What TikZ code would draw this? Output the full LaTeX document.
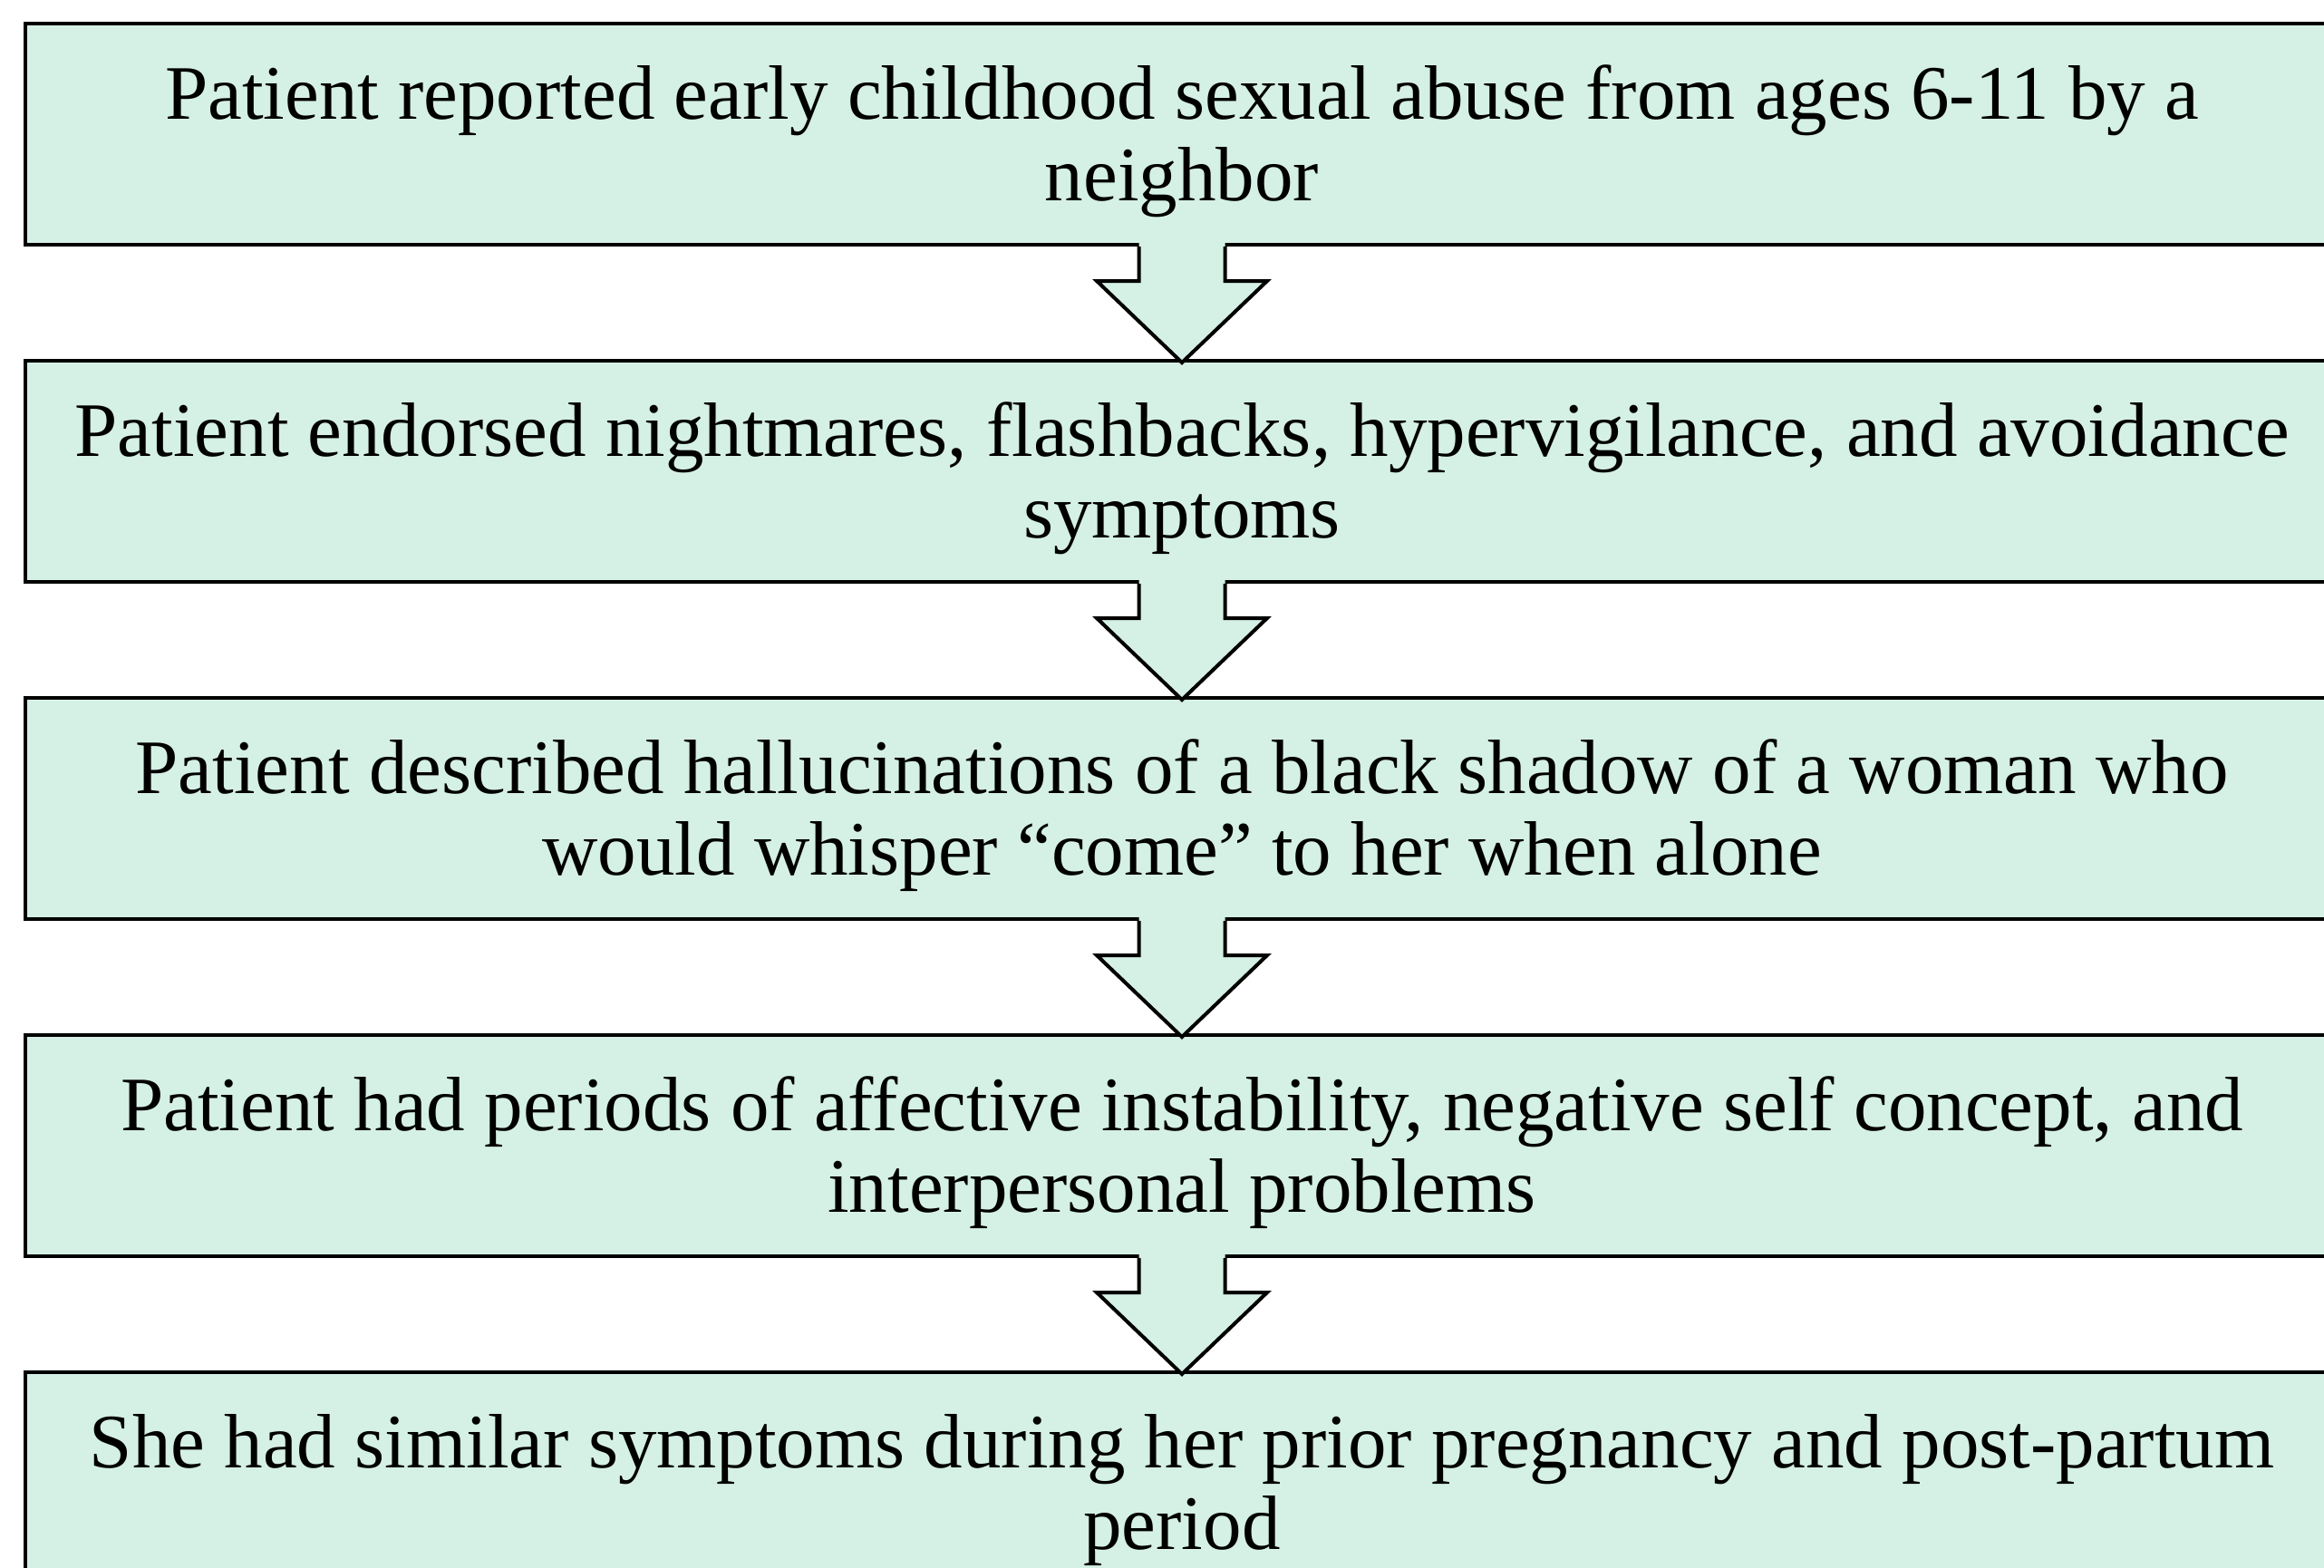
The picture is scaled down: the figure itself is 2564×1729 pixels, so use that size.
\documentclass[tikz,border=0pt]{standalone}
\usepackage{fontspec}
\setmainfont{Liberation Serif}
\usetikzlibrary{calc}
\definecolor{mint}{RGB}{213,240,228}
\begin{document}
\begin{tikzpicture}[x=1pt,y=-1pt,
  stepbox/.style={draw=black, fill=mint, line width=4pt, minimum width=2552pt, minimum height=244pt, inner sep=0pt},
  steptext/.style={inner sep=0pt, align=center, font=\fontsize{85}{90}\selectfont, yshift=-8pt},
  arrowline/.style={draw=black, line width=4pt, line join=miter}]
\useasboundingbox (0,0) rectangle (2564,1729);
\clip (0,0) rectangle (2564,1729);
\node[stepbox] (b1) at (1304,148) {};
\node[stepbox] (b2) at (1304,520) {};
\node[stepbox] (b3) at (1304,892) {};
\node[stepbox] (b4) at (1304,1264) {};
\node[stepbox] (b5) at (1304,1636) {};
\node[steptext] (t1) at (b1.center) {Patient reported early childhood sexual abuse from ages 6-11 by a\\neighbor};
\node[steptext] (t2) at (b2.center) {Patient endorsed nightmares, flashbacks, hypervigilance, and avoidance\\symptoms};
\node[steptext] (t3) at (b3.center) {Patient described hallucinations of a black shadow of a woman who\\would whisper “come” to her when alone};
\node[steptext] (t4) at (b4.center) {Patient had periods of affective instability, negative self concept, and\\interpersonal problems};
\node[steptext] (t5) at (b5.center) {She had similar symptoms during her prior pregnancy and post-partum\\period};
\foreach \a/\b in {b1/b2,b2/b3,b3/b4,b4/b5}{
  \coordinate (s) at (\a.south);
  \fill[mint] ($(s)+(-47.5,-4)$) -- ($(s)+(-47.5,38)$) -- ($(s)+(-94,38)$) -- ($(\b.north)+(0,4)$) -- ($(s)+(94,38)$) -- ($(s)+(47.5,38)$) -- ($(s)+(47.5,-4)$) -- cycle;
  \draw[arrowline] ($(s)+(-47.5,0)$) -- ($(s)+(-47.5,38)$) -- ($(s)+(-94,38)$) -- ($(\b.north)+(0,4)$) -- ($(s)+(94,38)$) -- ($(s)+(47.5,38)$) -- ($(s)+(47.5,0)$);
}
\end{tikzpicture}
\end{document}
